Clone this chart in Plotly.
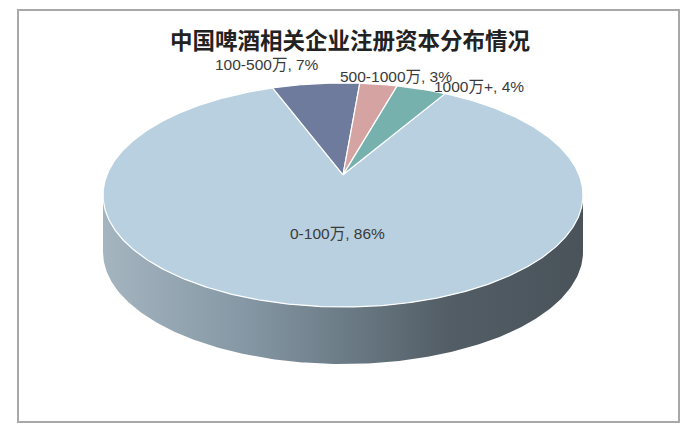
import numpy as np
import plotly.graph_objects as go

# Registered-capital bands and their share of beer-related companies (%)
categories = ["0-100万", "100-500万", "500-1000万", "1000万+"]
shares = [86, 7, 3, 4]
slice_colors = ["#b8d0df", "#6f7b9d", "#d6a3a3", "#77b1ae"]

title_text = "中国啤酒相关企业注册资本分布情况"

W, H = 694, 429

# Tilted-disc geometry in pixel units
cx, cy = 343, 195        # centre of the projected top ellipse
rx, ry = 240, 112        # projected ellipse radii
depth = 57               # thickness of the disc
k = 0.18                 # perspective strength (far edge appears compressed)
start_deg = 30           # angle (clockwise from 12 o'clock) where the first slice begins

# scale factors so that the projected circle fills the rx/ry ellipse
sx = rx * np.sqrt(1 - k * k)
sy = ry * (1 - k * k)
centre_y = cy - k * ry   # where the disc centre lands on screen


def project(theta_deg):
    """Perspective projection of a point on the unit rim of the disc top."""
    t = np.radians(theta_deg)
    u, v = np.sin(t), np.cos(t)
    d = 1 + k * v
    return cx + sx * u / d, centre_y - sy * v / d


def outline(theta_deg, dy=0.0):
    t = np.radians(theta_deg)
    return cx + rx * np.sin(t), cy - ry * np.cos(t) + dy


fig = go.Figure()

# Front wall of the disc (lower half of the outline extruded downward)
th = np.linspace(90, 270, 241)
xt, yt = outline(th)
xb, yb = outline(th[::-1], depth)
fig.add_trace(go.Scatter(
    x=np.concatenate([xt, xb, xt[:1]]),
    y=np.concatenate([yt, yb, yt[:1]]),
    mode="lines", line=dict(width=0, color="rgba(0,0,0,0)"),
    fill="toself",
    fillgradient=dict(
        type="horizontal",
        colorscale=[[0.0, "#a4b5c0"], [0.3, "#8597a4"], [0.5, "#6c7c87"],
                    [0.72, "#525d65"], [1.0, "#4a535a"]],
    ),
    hoverinfo="skip", showlegend=False,
))

# Top face slices, clockwise from the start angle
total = float(sum(shares))
a0 = start_deg
ax, ay = cx, centre_y
for cat, val, col in zip(categories, shares, slice_colors):
    span = 360.0 * val / total
    th = np.linspace(a0, a0 + span, max(int(span * 2), 8))
    px, py = project(th)
    fig.add_trace(go.Scatter(
        x=np.concatenate([[ax], px, [ax]]),
        y=np.concatenate([[ay], py, [ay]]),
        mode="lines", line=dict(width=1.2, color="white"),
        fill="toself", fillcolor=col,
        name=cat, hoverinfo="name", showlegend=False,
    ))
    a0 += span

# Data labels
label_pos = [(337, 233), (267, 64), (396, 76), (479, 86)]
for cat, val, (lx, ly) in zip(categories, shares, label_pos):
    fig.add_annotation(
        x=lx, y=ly, xref="x", yref="y", text=f"{cat}, {val}%",
        showarrow=False, xanchor="center", yanchor="middle",
        font=dict(family="Liberation Sans, Arial, Noto Sans CJK SC", size=15.5, color="#3a3a3a"),
    )

# Chart title
fig.add_annotation(
    x=350, y=39, xref="x", yref="y", text=f"<b>{title_text}</b>",
    showarrow=False, xanchor="center", yanchor="middle",
    font=dict(family="Noto Sans CJK SC", size=22.5, color="#222222"),
)

# Chart-area border
fig.add_shape(type="rect", xref="x", yref="y", x0=18, y0=10, x1=679, y1=422,
              line=dict(color="#a8a8a8", width=2), fillcolor="rgba(0,0,0,0)", layer="below")

fig.update_layout(
    width=W, height=H,
    margin=dict(l=0, r=0, t=0, b=0),
    paper_bgcolor="white", plot_bgcolor="white",
    xaxis=dict(range=[0, W], visible=False, fixedrange=True),
    yaxis=dict(range=[H, 0], visible=False, fixedrange=True),
    showlegend=False,
)

fig.write_html("out.html")
